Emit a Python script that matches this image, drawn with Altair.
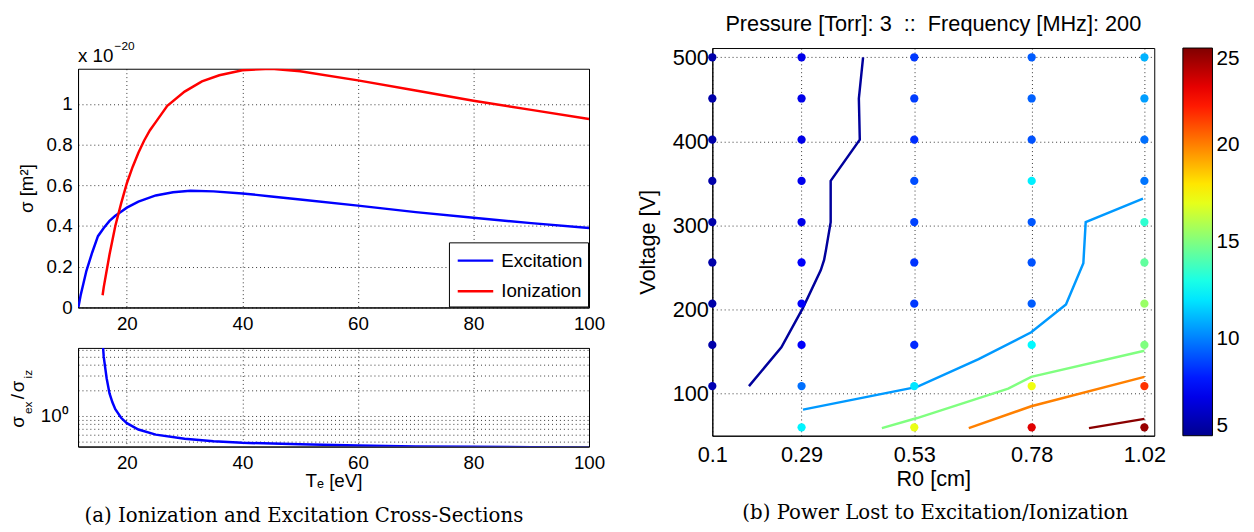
import altair as alt
import pandas as pd

# ---------------- Panel (a): cross-sections ----------------
te_ex = [11.6, 12.0, 12.5, 13.0, 14.0, 15.0, 16.0, 17.0, 18.0, 19.0, 20.0, 22.0, 25.0,
         28.0, 31.0, 35.0, 40.0, 45.0, 50.0, 60.0, 70.0, 80.0, 90.0, 100.0]
sigma_ex = [0.0, 0.06, 0.12, 0.18, 0.27, 0.35, 0.39, 0.425, 0.45, 0.47, 0.49, 0.52, 0.55,
            0.566, 0.573, 0.570, 0.560, 0.545, 0.530, 0.500, 0.468, 0.440, 0.414, 0.390]
te_iz = [15.8, 16.0, 16.5, 17.0, 17.5, 18.0, 19.0, 20.0, 21.0, 22.0, 23.0, 24.0, 25.0,
         27.0, 30.0, 33.0, 36.0, 40.0, 45.0, 50.0, 60.0, 70.0, 80.0, 90.0, 100.0]
sigma_iz = [0.06, 0.10, 0.18, 0.26, 0.33, 0.40, 0.51, 0.61, 0.69, 0.76, 0.82, 0.87, 0.91,
            0.99, 1.06, 1.11, 1.14, 1.165, 1.172, 1.16, 1.115, 1.065, 1.015, 0.97, 0.925]
te_ratio = [15.85, 16.0, 16.5, 17.0, 17.5, 18.0, 19.0, 20.0, 22.0, 25.0, 30.0, 35.0,
            40.0, 50.0, 60.0, 70.0, 80.0, 90.0, 100.0]
ratio = [7.0, 5.0, 2.8, 1.85, 1.45, 1.2, 0.95, 0.82, 0.69, 0.60, 0.535, 0.50,
         0.48, 0.46, 0.445, 0.435, 0.43, 0.425, 0.42]
te_ticks = [20, 40, 60, 80, 100]
sigma_ticks = [0, 0.2, 0.4, 0.6, 0.8, 1.0]
ratio_grid = [0.5, 0.6, 0.7, 0.8, 0.9, 1, 2, 3, 4, 5, 6]
processes = ["Excitation", "Ionization"]
process_colors = ["#0000ff", "#ff0000"]

# ---------------- Panel (b): power lost ----------------
r0_ticks = [0.1, 0.29, 0.53, 0.78, 1.02]
voltages = [60, 109, 158, 207, 256, 304, 353, 402, 451, 500]
p_r010 = [None, 5.8, 5.6, 5.6, 5.6, 5.6, 5.6, 5.6, 5.6, 5.6]
p_r029 = [12.3, 9.7, 7.4, 7.4, 7.4, 7.0, 7.1, 7.0, 7.0, 7.0]
p_r053 = [17.1, 12.0, 8.3, 8.6, 8.5, 8.8, 9.0, 8.4, 8.7, 8.6]
p_r078 = [23.1, 17.2, 12.4, 9.3, 9.1, 9.2, 12.2, 9.1, 9.4, 9.3]
p_r102 = [24.5, 21.5, 15.0, 15.5, 14.4, 13.4, 9.8, 9.7, 10.6, 11.0]

c1_r0 = [0.178, 0.247, 0.293, 0.331, 0.338, 0.342, 0.352, 0.352, 0.414, 0.413, 0.412, 0.421]
c1_v = [109, 155, 202, 247, 259, 271, 304, 353, 402, 427, 451, 500]
c2_r0 = [0.293, 0.536, 0.667, 0.779, 0.853, 0.890, 0.895, 1.017]
c2_v = [81, 108, 141, 173, 206, 255, 304, 332]
c3_r0 = [0.461, 0.536, 0.730, 0.779, 1.02]
c3_v = [59, 71, 106, 120, 151]
c4_r0 = [0.646, 0.779, 1.02]
c4_v = [59, 85, 120]
c5_r0 = [0.902, 1.02]
c5_v = [59, 70]
contour_levels = [5.3, 10.5, 15.0, 20.0, 24.8]

jet_domain = [5, 7.5, 12.5, 17.5, 22.5, 25]
jet_range = ["#00008f", "#0000ff", "#00ffff", "#ffff00", "#ff0000", "#800000"]

FONT = "Liberation Sans"
SERIF = "DejaVu Serif"
NB = "\u00a0"
GRID = dict(grid=True, gridColor="black", gridDash=[1, 3], gridOpacity=0.8, gridWidth=1)

# ---------- data tables ----------
df_top = pd.concat([
    pd.DataFrame({"Te": te_ex, "sigma": sigma_ex, "process": processes[0]}),
    pd.DataFrame({"Te": te_iz, "sigma": sigma_iz, "process": processes[1]}),
])
df_ratio = pd.DataFrame({"Te": te_ratio, "ratio": ratio})

rows = []
for r0, col in zip(r0_ticks, [p_r010, p_r029, p_r053, p_r078, p_r102]):
    for v, p in zip(voltages, col):
        if p is not None:
            rows.append({"R0": r0, "V": v, "P": p})
df_pts = pd.DataFrame(rows)

crows = []
for k, (rr, vv, lev) in enumerate(zip([c1_r0, c2_r0, c3_r0, c4_r0, c5_r0],
                                       [c1_v, c2_v, c3_v, c4_v, c5_v], contour_levels)):
    for i, (r, v) in enumerate(zip(rr, vv)):
        crows.append({"R0": r, "V": v, "level": lev, "cid": k, "ord": i})
df_con = pd.DataFrame(crows)


def label(txt, x, y, size, font=FONT, align="left", baseline="alphabetic", angle=0):
    return alt.Chart(pd.DataFrame({"t": [txt]})).mark_text(
        align=align, baseline=baseline, angle=angle, fontSize=size, font=font, color="black"
    ).encode(text="t:N", x=alt.value(x), y=alt.value(y))


# ---------- panel (a): multiplier strip above the top plot ----------
strip = alt.layer(
    label("x 10", 0, 14, 19),
    label("−20", 37, 2, 12),
).properties(width=518, height=20, view=alt.ViewBackground(strokeOpacity=0))

# ---------- panel (a) top ----------
te_scale = alt.Scale(domain=[11.55, 100], nice=False, zero=False)

top_chart = alt.Chart(df_top).mark_line(strokeWidth=2.5, clip=True).encode(
    x=alt.X("Te:Q", scale=te_scale,
            axis=alt.Axis(values=te_ticks, title=None, labelFontSize=19, labelPadding=7,
                          labelFlush=False, **GRID)),
    y=alt.Y("sigma:Q", scale=alt.Scale(domain=[0, 1.172], nice=False),
            axis=alt.Axis(values=sigma_ticks, format="~g", title="σ [m²]", titleFontSize=19,
                          titlePadding=10, labelFontSize=19, labelPadding=6, **GRID)),
    color=alt.Color("process:N", scale=alt.Scale(domain=processes, range=process_colors),
                    legend=alt.Legend(title=None, orient="bottom-right", offset=1,
                                      fillColor="white", strokeColor="black", padding=5,
                                      labelFontSize=19, labelFont=FONT,
                                      symbolType="M-0.8,0H2.2", symbolStrokeWidth=2.5,
                                      symbolSize=576, rowPadding=7, labelOffset=21)),
    order="Te:Q",
).properties(width=518, height=242)

# ---------- panel (a) bottom ----------
bot_line = alt.Chart(df_ratio).mark_line(strokeWidth=2.5, clip=True, color="#0000ff").encode(
    x=alt.X("Te:Q", scale=te_scale,
            axis=alt.Axis(values=te_ticks, title="Tₑ [eV]", titleFontSize=19,
                          titlePadding=0, labelFontSize=19, labelPadding=7,
                          labelFlush=False, **GRID)),
    y=alt.Y("ratio:Q", scale=alt.Scale(type="log", domain=[0.433, 6.4], nice=False),
            axis=alt.Axis(values=ratio_grid, labelExpr="datum.value == 1 ? '10⁰' : ''",
                          title=None, labelFontSize=19, labelPadding=10, **GRID)),
    order="Te:Q",
)
bot_layers = [bot_line]
for txt, fs, xx, yy in [("σ", 19, -55, 81), ("ex", 12, -47, 67), ("/", 19, -55, 52),
                        ("σ", 19, -55, 45), ("iz", 12, -47, 31)]:
    bot_layers.append(label(txt, xx, yy, fs, angle=270))
bot_layers.append(label("(a) Ionization and Excitation Cross-Sections", 229, 170, 20,
                        font=SERIF, align="center", baseline="middle"))
bot_chart = alt.layer(*bot_layers).properties(width=518, height=100)

plots_a = alt.vconcat(top_chart, bot_chart, spacing=13).resolve_scale(color="independent")
left = alt.vconcat(strip, plots_a, spacing=0).resolve_scale(color="independent")

# ---------- panel (b) ----------
r0_scale = alt.Scale(domain=[0.1, 1.041], nice=False, zero=False)
v_scale = alt.Scale(domain=[50, 511], nice=False, zero=False)

xax = alt.Axis(values=r0_ticks, format=".2~f", title="R0 [cm]", titleFontSize=22,
               titlePadding=3, labelFontSize=22, labelPadding=9, labelFlush=False, **GRID)
yax = alt.Axis(values=[100, 200, 300, 400, 500], title="Voltage [V]", titleFontSize=22,
               titlePadding=13, labelFontSize=22, labelPadding=4, **GRID)

cons = alt.Chart(df_con).mark_line(strokeWidth=2.5, clip=True).encode(
    x=alt.X("R0:Q", scale=r0_scale, axis=xax),
    y=alt.Y("V:Q", scale=v_scale, axis=yax),
    color=alt.Color("level:Q", legend=None,
                    scale=alt.Scale(domain=jet_domain, range=jet_range, interpolate="rgb")),
    detail="cid:N",
    order="ord:Q",
)
pts = alt.Chart(df_pts).mark_circle(size=70, opacity=1).encode(
    x=alt.X("R0:Q", scale=r0_scale, axis=xax),
    y=alt.Y("V:Q", scale=v_scale, axis=yax),
    color=alt.Color("P:Q",
                    scale=alt.Scale(domain=jet_domain, range=jet_range, interpolate="rgb"),
                    legend=alt.Legend(type="gradient", title=None, orient="right",
                                      direction="vertical", gradientLength=393,
                                      gradientThickness=30, values=[5, 10, 15, 20, 25],
                                      labelFontSize=21, labelFont=FONT, labelOffset=4,
                                      labelBaseline="middle", labelColor="black",
                                      gradientStrokeColor="black", gradientStrokeWidth=1,
                                      offset=29)),
)
cap_b = label("(b) Power Lost to Excitation/Ionization", 226, 471, 20, font=SERIF,
              align="center", baseline="middle")

title_b = f"Pressure [Torr]: 3{NB}{NB}::{NB}{NB}Frequency [MHz]: 200"
right = alt.layer(cons, pts, cap_b).resolve_scale(color="independent").properties(
    width=448, height=393,
    title=alt.TitleParams(title_b, fontSize=22, font=FONT, fontWeight="normal",
                          color="black", offset=11, anchor="middle"),
)

chart = alt.hconcat(left, right, spacing=30).resolve_scale(color="independent").configure(
    font=FONT, padding={"left": 0, "top": 0, "right": 5, "bottom": 0}
).configure_view(stroke="black", strokeWidth=1).configure_axis(
    labelFont=FONT, titleFont=FONT, labelColor="black", titleColor="black",
    domainColor="black", ticks=False, titleFontWeight="normal"
)

chart.save("out.html", embed_options={"renderer": "svg", "actions": False})
